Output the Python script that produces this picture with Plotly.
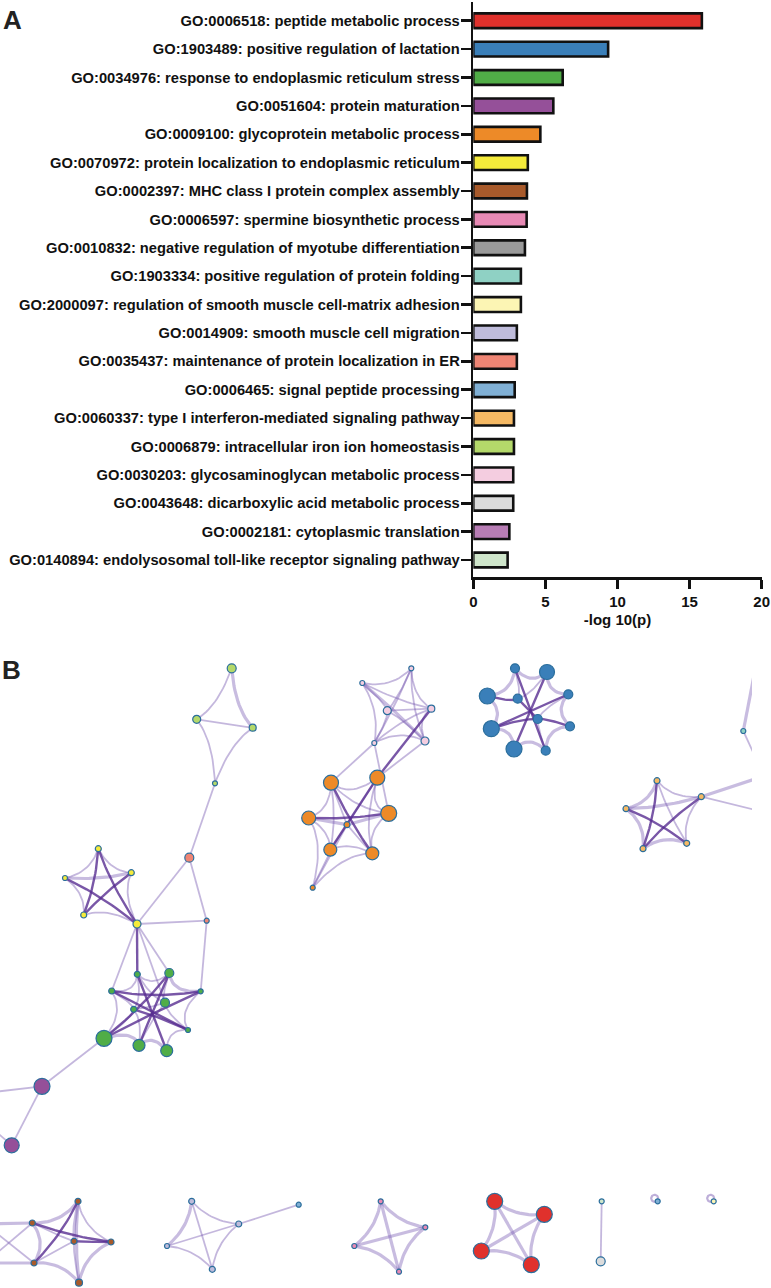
import numpy as np
import plotly.graph_objects as go

# ---------------- Panel A data ----------------
terms = [
    "GO:0006518: peptide metabolic process",
    "GO:1903489: positive regulation of lactation",
    "GO:0034976: response to endoplasmic reticulum stress",
    "GO:0051604: protein maturation",
    "GO:0009100: glycoprotein metabolic process",
    "GO:0070972: protein localization to endoplasmic reticulum",
    "GO:0002397: MHC class I protein complex assembly",
    "GO:0006597: spermine biosynthetic process",
    "GO:0010832: negative regulation of myotube differentiation",
    "GO:1903334: positive regulation of protein folding",
    "GO:2000097: regulation of smooth muscle cell-matrix adhesion",
    "GO:0014909: smooth muscle cell migration",
    "GO:0035437: maintenance of protein localization in ER",
    "GO:0006465: signal peptide processing",
    "GO:0060337: type I interferon-mediated signaling pathway",
    "GO:0006879: intracellular iron ion homeostasis",
    "GO:0030203: glycosaminoglycan metabolic process",
    "GO:0043648: dicarboxylic acid metabolic process",
    "GO:0002181: cytoplasmic translation",
    "GO:0140894: endolysosomal toll-like receptor signaling pathway",
]
neglogp = [15.85, 9.35, 6.2, 5.55, 4.65, 3.78, 3.72, 3.7, 3.58, 3.3,
           3.3, 3.02, 3.02, 2.87, 2.82, 2.82, 2.77, 2.77, 2.5, 2.38]
term_colors = ["#e0312c", "#3a7fb9", "#50ad47", "#955099", "#ed8a28",
               "#f5eb3b", "#a85a2b", "#e88ab5", "#9a9a9a", "#8fd1c4",
               "#fcf5b4", "#bfbcdb", "#ef8574", "#80b0d5", "#f5b964",
               "#b4d96a", "#f4cde0", "#dcdcdc", "#b87db5", "#cfe6cb"]
x_ticks = [0, 5, 10, 15, 20]

# ---------------- Panel B data (network layout) ----------------
node_id = ["LG0", "LG1", "LG2", "LG3", "SA0", "SA1",
           "Y0", "Y1", "Y2", "Y3", "Y4",
           "G0", "G1", "G2", "G3", "G4", "G5", "G6", "G7", "G8", "G9",
           "P0", "P1",
           "O0", "O1", "O2", "O3", "O4", "O5", "O6", "O7",
           "LP0", "LP1", "LP2", "LP3", "LP4", "LP5",
           "B0", "B1", "B2", "B3", "B4", "B5", "B6", "B7", "B8", "B9",
           "LO0", "LO1", "LO2", "LO3", "LO4", "T0",
           "BR0", "BR1", "BR2", "BR3", "BR4", "BR5",
           "L0", "L1", "L2", "L3", "LB0",
           "PK0", "PK1", "PK2", "PK3",
           "R0", "R1", "R2", "R3",
           "C0", "GR0", "S0", "S1",
           "XL1", "XL2", "XL3", "XL4", "XR1", "XR2", "XR3"]
node_x = [231.7, 196.7, 252.7, 215.0, 189.3, 206.7,
          98.3, 131.3, 65.0, 83.7, 137.0,
          137.3, 169.3, 111.7, 200.7, 165.0, 133.7, 188.0, 104.0, 139.0, 166.7,
          42.0, 11.7,
          331.0, 377.3, 308.7, 388.7, 347.0, 330.3, 372.3, 312.7,
          362.3, 411.3, 387.3, 431.3, 425.0, 374.3,
          515.0, 547.0, 487.3, 517.7, 568.3, 537.7, 491.3, 570.0, 514.0, 545.7,
          657.0, 701.3, 626.0, 643.0, 686.7, 743.3,
          78.0, 32.3, 74.0, 111.0, 34.0, 79.0,
          191.7, 238.7, 167.0, 212.3, 298.7,
          380.7, 425.3, 354.3, 399.0,
          494.7, 544.3, 481.3, 531.3,
          601.7, 600.7, 657.7, 713.7,
          -15.0, -15.0, -15.0, -15.0, 764.0, 764.0, 758.0]
node_y = [668.3, 719.3, 727.7, 783.3, 857.7, 920.7,
          848.7, 872.7, 878.0, 915.0, 924.0,
          974.3, 973.0, 991.0, 991.3, 1002.7, 1009.3, 1030.0, 1038.3, 1045.3, 1050.7,
          1086.3, 1145.3,
          782.7, 777.7, 818.0, 813.3, 824.7, 849.7, 853.3, 887.7,
          683.0, 668.3, 710.7, 708.7, 741.0, 743.0,
          668.3, 672.0, 696.0, 698.7, 694.3, 719.0, 728.7, 726.3, 749.0, 750.7,
          780.7, 796.7, 808.7, 848.7, 843.3, 731.0,
          1201.3, 1223.0, 1241.3, 1242.0, 1263.0, 1282.7,
          1201.3, 1224.0, 1246.0, 1269.3, 1204.7,
          1201.3, 1227.3, 1246.0, 1271.7,
          1201.3, 1214.3, 1251.0, 1264.7,
          1201.3, 1261.3, 1201.3, 1201.3,
          1093.0, 1122.0, 1263.0, 1224.0, 776.0, 812.0, 655.0]
node_d = [9, 8, 7, 5, 9, 5,
          6, 6, 5, 6, 8,
          6, 9, 6, 5, 9, 6, 5, 16, 12, 12,
          16, 15,
          15, 15, 14, 16, 6, 13, 13, 5,
          5, 5, 8, 7, 8, 5,
          9, 15, 16, 9, 9, 9, 16, 9, 16, 9,
          6, 6, 6, 6, 6, 5,
          6, 6, 6, 6, 6, 7,
          6, 6, 5, 6, 5,
          5, 5, 5, 5,
          16, 16, 16, 16,
          5, 9, 5, 5,
          0, 0, 0, 0, 0, 0, 0]
node_term = [15, 15, 15, 15, 12, 12,
             5, 5, 5, 5, 5,
             2, 2, 2, 2, 2, 2, 2, 2, 2, 2,
             3, 3,
             4, 4, 4, 4, 4, 4, 4, 4,
             16, 16, 16, 16, 16, 16,
             1, 1, 1, 1, 1, 1, 1, 1, 1, 1,
             14, 14, 14, 14, 14, 9,
             6, 6, 6, 6, 6, 6,
             11, 11, 11, 11, 13,
             7, 7, 7, 7,
             0, 0, 0, 0,
             19, 17, 13, 10,
             -1, -1, -1, -1, -1, -1, -1]
edges = [
    ("LG0", "LG1", 1), ("LG0", "LG2", 2), ("LG1", "LG2", 1), ("LG1", "LG3", 1),
    ("LG2", "LG3", 1), ("LG3", "SA0", 1),
    ("SA0", "SA1", 1), ("SA0", "Y4", 1), ("SA1", "Y4", 1), ("SA1", "G3", 1),
    ("Y0", "Y2", 1), ("Y0", "Y1", 1), ("Y0", "Y3", 3), ("Y0", "Y4", 3),
    ("Y1", "Y2", 2), ("Y1", "Y3", 3), ("Y1", "Y4", 1), ("Y2", "Y3", 1),
    ("Y2", "Y4", 3), ("Y3", "Y4", 1), ("Y4", "G0", 3), ("Y4", "G2", 1),
    ("Y4", "G4", 1), ("Y4", "G1", 1),
    ("G0", "G9", 3), ("G1", "G8", 3), ("G2", "G3", 3), ("G7", "G3", 3),
    ("G2", "G6", 3), ("G7", "G1", 3), ("G5", "G6", 3),
    ("G0", "G1", 1), ("G0", "G2", 1), ("G0", "G5", 1), ("G2", "G5", 1),
    ("G2", "G7", 1), ("G7", "G8", 2), ("G8", "G9", 2), ("G9", "G6", 1),
    ("G6", "G3", 1), ("G3", "G1", 2), ("G1", "G4", 1), ("G4", "G6", 1),
    ("G4", "G5", 1), ("G4", "G8", 1), ("G0", "G4", 1), ("G5", "G8", 1),
    ("G7", "G5", 1), ("G7", "P0", 1),
    ("P0", "P1", 1), ("P0", "XL1", 1), ("P1", "XL2", 1),
    ("O0", "O1", 1), ("O0", "O2", 1), ("O1", "O3", 1), ("O2", "O5", 1),
    ("O3", "O6", 1), ("O5", "O6", 1), ("O0", "O6", 3), ("O1", "O5", 3),
    ("O2", "O3", 3), ("O0", "O4", 1), ("O1", "O4", 1), ("O2", "O4", 2),
    ("O3", "O4", 2), ("O4", "O5", 1), ("O4", "O6", 1), ("O0", "O5", 1),
    ("O1", "O6", 1), ("O2", "O7", 1), ("O7", "O5", 1), ("O7", "O6", 1),
    ("O7", "O4", 1), ("O0", "O3", 1),
    ("O0", "LP5", 1), ("O1", "LP3", 3), ("O3", "LP5", 1), ("O1", "LP4", 1),
    ("LP0", "LP1", 1), ("LP0", "LP2", 1), ("LP0", "LP3", 1), ("LP0", "LP4", 2),
    ("LP0", "LP5", 1), ("LP1", "LP2", 1), ("LP1", "LP3", 1), ("LP1", "LP4", 1),
    ("LP1", "LP5", 1), ("LP2", "LP3", 1), ("LP2", "LP4", 1), ("LP2", "LP5", 1),
    ("LP3", "LP4", 1), ("LP3", "LP5", 1), ("LP4", "LP5", 1),
    ("B0", "B1", 2), ("B1", "B4", 2), ("B4", "B7", 2), ("B7", "B9", 2),
    ("B9", "B8", 2), ("B8", "B6", 2), ("B6", "B2", 2), ("B2", "B0", 2),
    ("B2", "B3", 3), ("B6", "B4", 3), ("B1", "B8", 3), ("B0", "B9", 3),
    ("B5", "B7", 3), ("B3", "B5", 3), ("B6", "B5", 3),
    ("B0", "B3", 1), ("B5", "B9", 1), ("B4", "B5", 1), ("B3", "B1", 1),
    ("LO0", "LO1", 1), ("LO0", "LO2", 2), ("LO0", "LO3", 3), ("LO0", "LO4", 1),
    ("LO1", "LO2", 2), ("LO1", "LO3", 3), ("LO1", "LO4", 1), ("LO2", "LO3", 2),
    ("LO2", "LO4", 3), ("LO3", "LO4", 2),
    ("LO1", "XR1", 2), ("LO1", "XR2", 1), ("T0", "XR3", 2), ("T0", "XR1", 1),
    ("BR0", "BR1", 2), ("BR0", "BR3", 1), ("BR0", "BR4", 3), ("BR0", "BR5", 2),
    ("BR0", "BR2", 2), ("BR1", "BR4", 2), ("BR1", "BR2", 1), ("BR1", "BR3", 3),
    ("BR2", "BR3", 3), ("BR2", "BR5", 1), ("BR3", "BR5", 2), ("BR4", "BR5", 2),
    ("BR4", "BR2", 1), ("BR1", "XL3", 1), ("BR4", "XL4", 1), ("BR1", "XL4", 2),
    ("BR4", "XL3", 2),
    ("L0", "L1", 1), ("L0", "L2", 2), ("L0", "L3", 1), ("L1", "L2", 1),
    ("L1", "L3", 1), ("L2", "L3", 1), ("L1", "LB0", 1),
    ("PK0", "PK1", 2), ("PK0", "PK2", 2), ("PK0", "PK3", 2), ("PK1", "PK2", 2),
    ("PK1", "PK3", 2), ("PK2", "PK3", 2),
    ("R0", "R1", 2), ("R0", "R2", 2), ("R0", "R3", 2), ("R1", "R2", 2),
    ("R1", "R3", 2), ("R2", "R3", 2),
    ("C0", "GR0", 1),
]
self_loops = ["S0", "S1"]

# ---------------- page geometry ----------------
W, H = 771, 1288


def fx(p):
    return p / W


def fy(p):
    return 1 - p / H


FONT = "Liberation Sans, Arial, Helvetica, sans-serif"
fig = go.Figure()

fig.add_trace(go.Bar(
    x=neglogp, y=terms, orientation="h", width=0.52,
    marker=dict(color=term_colors, line=dict(color="#111111", width=2.6)),
    xaxis="x", yaxis="y", showlegend=False, hoverinfo="skip",
))

# ---------------- network edges (bundled-looking curves) ----------------
idx = {n: i for i, n in enumerate(node_id)}
nx_arr = np.array(node_x)
ny_arr = np.array(node_y)
term_arr = np.array(node_term)
centroid = {}
for g in set(node_term):
    if g < 0:
        continue
    m = term_arr == g
    if m.sum() >= 3:
        centroid[g] = (nx_arr[m].mean(), ny_arr[m].mean())

styles = {
    1: dict(width=1.8, color="rgba(125,95,180,0.45)"),
    2: dict(width=3.2, color="rgba(125,95,180,0.42)"),
    3: dict(width=2.4, color="rgba(88,45,145,0.80)"),
}
tt = np.linspace(0, 1, 18)
for w in (1, 2, 3):
    ex, ey = [], []
    for a, b, ww in edges:
        if ww != w:
            continue
        i, j = idx[a], idx[b]
        x0, y0, x1, y1 = node_x[i], node_y[i], node_x[j], node_y[j]
        mx, my = (x0 + x1) / 2, (y0 + y1) / 2
        g = node_term[i]
        if g == node_term[j] and g in centroid:
            cx, cy = centroid[g]
            kx, ky = mx + 0.4 * (cx - mx), my + 0.4 * (cy - my)
        else:
            kx, ky = mx, my
        bx = (1 - tt) ** 2 * x0 + 2 * (1 - tt) * tt * kx + tt ** 2 * x1
        by = (1 - tt) ** 2 * y0 + 2 * (1 - tt) * tt * ky + tt ** 2 * y1
        ex += list(bx) + [None]
        ey += list(by) + [None]
    fig.add_trace(go.Scatter(x=ex, y=ey, mode="lines", line=styles[w],
                             xaxis="x2", yaxis="y2", showlegend=False,
                             hoverinfo="skip"))

# self loops
t = np.linspace(0, 2 * np.pi, 40)
for n in self_loops:
    i = idx[n]
    lx = list(node_x[i] - 3 + 3.5 * np.cos(t)) + [None]
    ly = list(node_y[i] - 3 + 3.5 * np.sin(t)) + [None]
    fig.add_trace(go.Scatter(x=lx, y=ly, mode="lines",
                             line=dict(width=2.2, color="rgba(125,95,180,0.5)"),
                             xaxis="x2", yaxis="y2", showlegend=False,
                             hoverinfo="skip"))

vis = [i for i in range(len(node_id)) if node_term[i] >= 0]
fig.add_trace(go.Scatter(
    x=[node_x[i] for i in vis], y=[node_y[i] for i in vis], mode="markers",
    marker=dict(size=[node_d[i] for i in vis],
                color=[term_colors[node_term[i]] for i in vis],
                line=dict(color="#2b6e9c", width=1.2), opacity=1),
    hoverinfo="skip", xaxis="x2", yaxis="y2", showlegend=False,
))

fig.update_layout(
    template="none",
    width=W, height=H, margin=dict(l=0, r=0, t=0, b=0, autoexpand=False),
    paper_bgcolor="white", plot_bgcolor="white",
    font=dict(family=FONT, color="#111111"),
    hovermode=False,
    xaxis=dict(domain=[fx(473.3), fx(761.7)], range=[0, 20], automargin=False,
               tickvals=x_ticks, showgrid=False, zeroline=False,
               showline=True, linewidth=2.6, linecolor="#111111",
               ticks="outside", ticklen=9, tickwidth=2.6, tickcolor="#111111",
               tickfont=dict(size=15, weight="bold", family=FONT),
               title=dict(text="-log 10(p)", standoff=6,
                          font=dict(size=15, weight="bold", family=FONT)),
               anchor="y", fixedrange=True),
    yaxis=dict(domain=[fy(577.3), fy(2)], range=[19.61, -0.66], automargin=False,
               type="category", showgrid=False, zeroline=False,
               showline=True, linewidth=2.6, linecolor="#111111",
               ticks="outside", ticklen=10, tickwidth=2.6, tickcolor="#111111",
               tickfont=dict(size=14.7, weight="bold", family=FONT),
               ticklabelstandoff=-2,
               anchor="x", fixedrange=True),
    xaxis2=dict(domain=[0, fx(752)], range=[0, 752], visible=False,
                automargin=False, anchor="y2", fixedrange=True),
    yaxis2=dict(domain=[0, fy(640)], range=[H, 640], visible=False,
                automargin=False, anchor="x2", fixedrange=True),
    annotations=[
        dict(text="<b>A</b>", x=fx(1), y=fy(3), xref="paper", yref="paper",
             xanchor="left", yanchor="top", showarrow=False,
             font=dict(size=26, family=FONT, color="#222222")),
        dict(text="<b>B</b>", x=0, y=fy(653), xref="paper", yref="paper",
             xanchor="left", yanchor="top", showarrow=False,
             font=dict(size=26, family=FONT, color="#222222")),
    ],
)

fig.write_html(
    "out.html",
    config={"displayModeBar": False, "staticPlot": True},
    post_script="document.body.style.margin='0';"
                "document.body.style.overflow='hidden';",
)
